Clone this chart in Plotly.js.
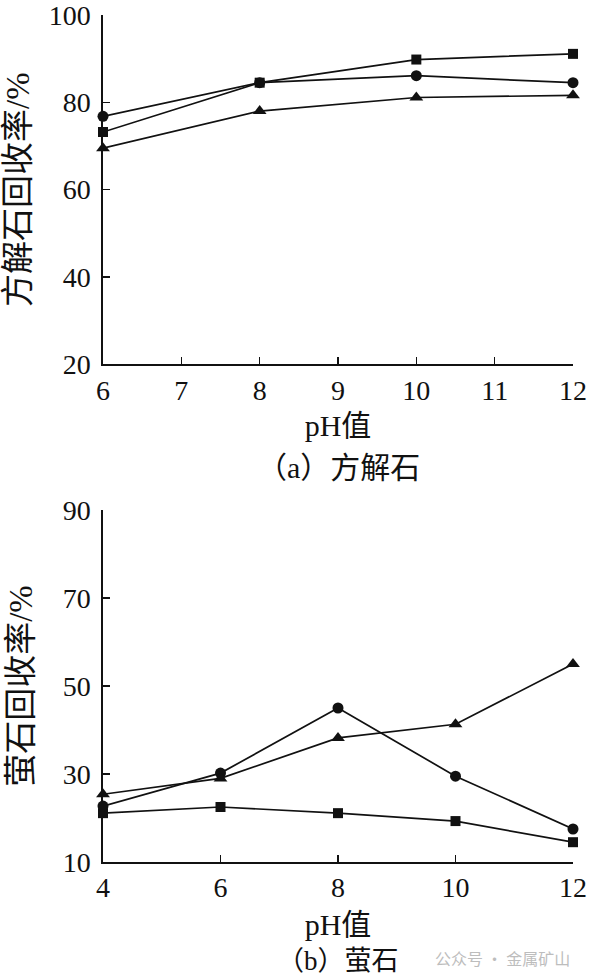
<!DOCTYPE html>
<html>
<head>
<meta charset="utf-8">
<script src="https://cdn.plot.ly/plotly-3.0.1.min.js"></script>
<style>html,body{margin:0;padding:0;background:#fff;}#chart{width:592px;height:980px;}</style>
</head>
<body>
<div id="chart"></div>
<script>
// (a) calcite
const phA = [6, 8, 10, 12];
const calciteSquare = [73.2, 84.5, 89.8, 91.1];
const calciteCircle = [76.8, 84.5, 86.1, 84.5];
const calciteTriangle = [69.5, 78.0, 81.1, 81.6];
const calciteXTicks = [6, 7, 8, 9, 10, 11, 12];
const calciteYTicks = [20, 40, 60, 80, 100];
// (b) fluorite
const phB = [4, 6, 8, 10, 12];
const fluoriteSquare = [21.1, 22.5, 21.1, 19.3, 14.5];
const fluoriteCircle = [22.7, 30.2, 45.0, 29.5, 17.5];
const fluoriteTriangle = [25.4, 29.0, 38.2, 41.3, 55.0];
const fluoriteXTicks = [4, 6, 8, 10, 12];
const fluoriteYTicks = [10, 30, 50, 70, 90];

const FONT = "'Liberation Serif', 'Times New Roman', 'Noto Sans CJK SC', serif";

function tr(x, y, sym, size, xa, ya) {
  return {
    x: x, y: y, xaxis: xa, yaxis: ya, type: 'scatter', mode: 'lines+markers',
    line: {color: '#111', width: 1.7},
    marker: {symbol: sym, size: size, color: '#111'},
    cliponaxis: false, showlegend: false
  };
}

const data = [
  tr(phA, calciteSquare, 'square', 10, 'x', 'y'),
  tr(phA, calciteCircle, 'circle', 11, 'x', 'y'),
  tr(phA, calciteTriangle, 'triangle-up', 12, 'x', 'y'),
  tr(phB, fluoriteSquare, 'square', 10, 'x2', 'y2'),
  tr(phB, fluoriteCircle, 'circle', 11, 'x2', 'y2'),
  tr(phB, fluoriteTriangle, 'triangle-up', 12, 'x2', 'y2')
];

const axBase = {
  showline: true, linecolor: '#111', linewidth: 1.6,
  ticks: 'inside', ticklen: 7, tickwidth: 1.4, tickcolor: '#111',
  showgrid: false, zeroline: false, mirror: false,
  tickfont: {family: FONT, size: 28, color: '#111'}
};
const xTitleFont = {family: FONT, size: 30, color: '#111'};
const yTitleFont = {family: FONT, size: 33, color: '#111'};

const layout = {
  width: 592, height: 980,
  margin: {l: 103, r: 19, t: 15, b: 118},
  paper_bgcolor: '#fff', plot_bgcolor: '#fff',
  font: {family: FONT, color: '#111'},
  xaxis: Object.assign({}, axBase, {
    domain: [0, 1], anchor: 'y', range: [6, 12], tickmode: 'array', tickvals: calciteXTicks,
    title: {text: 'pH值', font: xTitleFont, standoff: 10}
  }),
  yaxis: Object.assign({}, axBase, {
    domain: [0.5876, 1], anchor: 'x', range: [20, 100], tickmode: 'array', tickvals: calciteYTicks,
    ticklabelstandoff: 5, ticklabeloverflow: 'allow',
    title: {text: '方解石回收率/%', font: yTitleFont, standoff: 20}
  }),
  xaxis2: Object.assign({}, axBase, {
    domain: [0, 1], anchor: 'y2', range: [4, 12], tickmode: 'array', tickvals: fluoriteXTicks,
    title: {text: 'pH值', font: xTitleFont, standoff: 12}
  }),
  yaxis2: Object.assign({}, axBase, {
    domain: [0, 0.4156], anchor: 'x2', range: [10, 90], tickmode: 'array', tickvals: fluoriteYTicks,
    ticklabelstandoff: 5,
    title: {text: '萤石回收率/%', font: yTitleFont, standoff: 20}
  }),
  annotations: [
    {text: '（a）方解石', xref: 'paper', yref: 'paper', x: 0.5, y: 0.5876, yshift: -103,
     showarrow: false, xanchor: 'center', yanchor: 'middle', font: {family: FONT, size: 30, color: '#111'}},
    {text: '（b）萤石', xref: 'paper', yref: 'paper', x: 0.5, y: 0, yshift: -99,
     showarrow: false, xanchor: 'center', yanchor: 'middle', font: {family: FONT, size: 27, color: '#111'}},
    {text: '公众号 · 金属矿山', xref: 'paper', yref: 'paper', x: 1.0, xshift: -1, y: 0, yshift: -96,
     showarrow: false, xanchor: 'right', yanchor: 'middle', font: {family: "'Noto Sans CJK SC', sans-serif", size: 16, color: '#bdbdbd'}}
  ]
};

Plotly.newPlot('chart', data, layout, {staticPlot: true, displayModeBar: false});
</script>
</body>
</html>
